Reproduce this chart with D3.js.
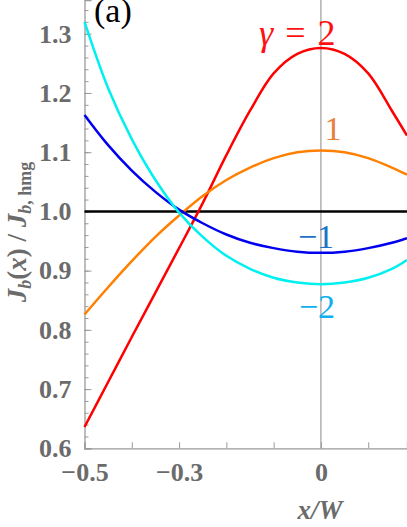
<!DOCTYPE html>
<html>
<head>
<meta charset="utf-8">
<script src="https://cdn.jsdelivr.net/npm/d3@7"></script>
<style>
  body { margin: 0; background: #fff; }
  svg { display: block; }
  text { font-family: "Liberation Serif", "Times New Roman", "DejaVu Serif", serif; }
</style>
</head>
<body>
<div id="chart"></div>
<script>
const xValues = [-0.5, -0.45, -0.4, -0.35, -0.3, -0.25, -0.2, -0.15, -0.1, -0.05, 0, 0.05, 0.1, 0.15, 0.182];

// J_b(x) / J_b,hmg for each gamma
const gamma2 = [0.636, 0.712, 0.788, 0.863, 0.938, 1.014, 1.095, 1.170, 1.233, 1.266, 1.276, 1.266, 1.233, 1.170, 1.128];
const gamma1 = [0.826, 0.872, 0.916, 0.957, 0.993, 1.026, 1.053, 1.074, 1.090, 1.100, 1.103, 1.100, 1.090, 1.074, 1.062];
const gammaM1 = [1.163, 1.112, 1.069, 1.033, 1.003, 0.980, 0.961, 0.947, 0.938, 0.932, 0.930, 0.932, 0.938, 0.947, 0.955];
const gammaM2 = [1.320, 1.208, 1.122, 1.053, 0.998, 0.957, 0.925, 0.903, 0.888, 0.880, 0.877, 0.880, 0.888, 0.903, 0.918];

const yMajorTicks = [0.6, 0.7, 0.8, 0.9, 1.0, 1.1, 1.2, 1.3];
const xTicks = [-0.5, -0.4, -0.3, -0.2, -0.1, 0, 0.1];
const xTickLabels = { "-0.5": "\u22120.5", "-0.3": "\u22120.3", "0": "0" };

const series = [
    { name: "2", values: gamma2, color: "#ff0000" },
    { name: "1", values: gamma1, color: "#ff8000" },
    { name: "-1", values: gammaM1, color: "#0000ee" },
    { name: "-2", values: gammaM2, color: "#00f0f0" }
];

var width = 407, height = 527;
var plotLeft = 84.5, plotBottom = 448.3;

var x = d3.scaleLinear().domain([-0.5, 0.182]).range([plotLeft, 407]);
var y = d3.scaleLinear().domain([0.6, 1.357]).range([plotBottom, 0]);

var svg = d3.select("#chart").append("svg")
    .attr("width", width)
    .attr("height", height);

var axisGray = "#9a9a9a", textGray = "#6b6b6b";

// vertical reference line at x = 0
svg.append("line")
    .attr("x1", x(0)).attr("x2", x(0))
    .attr("y1", 0).attr("y2", plotBottom)
    .attr("stroke", "#8a8a8a")
    .attr("stroke-width", 1);

// y axis: minor ticks every 0.02
var yMinor = d3.range(0.6, 1.36, 0.02).map(d => +d.toFixed(2));
svg.append("g")
    .attr("class", "y axis minor")
    .attr("transform", "translate(" + plotLeft + ",0)")
    .call(d3.axisLeft(y).tickValues(yMinor).tickSize(-4).tickFormat(""))
    .call(g => g.select(".domain").remove())
    .selectAll("line").attr("stroke", axisGray);

var yAxis = svg.append("g")
    .attr("class", "y axis")
    .attr("transform", "translate(" + plotLeft + ",0)")
    .call(d3.axisLeft(y).tickValues(yMajorTicks).tickSize(-7).tickPadding(13).tickFormat(d3.format(".1f")));
yAxis.select(".domain").attr("stroke", axisGray).attr("stroke-width", 1.3);
yAxis.selectAll("line").attr("stroke", axisGray);
yAxis.selectAll("text")
    .attr("fill", textGray)
    .style("font-weight", "bold")
    .style("font-size", "26px");

var xAxis = svg.append("g")
    .attr("class", "x axis")
    .attr("transform", "translate(0," + plotBottom + ")")
    .call(d3.axisBottom(x).tickValues(xTicks).tickSize(-6).tickPadding(14)
        .tickFormat(d => xTickLabels[String(+d.toFixed(1))] || ""));
xAxis.select(".domain").attr("stroke", axisGray).attr("stroke-width", 1.3);
xAxis.selectAll("line").attr("stroke", axisGray);
xAxis.selectAll("text")
    .attr("fill", textGray)
    .style("font-weight", "bold")
    .style("font-size", "26px");
// d3 axes set font-family on the group; drop it so the css serif applies
svg.selectAll(".axis").attr("font-family", null).attr("font-size", null);

// homogeneous reference level
svg.append("line")
    .attr("x1", plotLeft).attr("x2", width)
    .attr("y1", y(1)).attr("y2", y(1))
    .attr("stroke", "#000")
    .attr("stroke-width", 2.5);

var plotLine = d3.line()
    .x((d, i) => x(xValues[i]))
    .y(d => y(d))
    .curve(d3.curveCatmullRom);

svg.append("g").selectAll("path")
    .data(series)
    .enter().append("path")
    .attr("d", d => plotLine(d.values))
    .style("fill", "none")
    .style("stroke-width", "2.5px")
    .style("stroke", d => d.color);

// curve labels
var g2 = svg.append("text")
    .attr("x", 259).attr("y", 45)
    .attr("fill", "#ff1010")
    .style("font-size", "36px");
g2.append("tspan").style("font-style", "italic").text("\u03b3");
g2.append("tspan").attr("dx", 12).text("=");
g2.append("tspan").attr("dx", 12).text("2");

svg.append("text")
    .attr("x", 333).attr("y", 140)
    .attr("text-anchor", "middle")
    .attr("fill", "#e8803a")
    .style("font-size", "34px")
    .text("1");

svg.append("text")
    .attr("x", 316).attr("y", 248)
    .attr("text-anchor", "middle")
    .attr("fill", "#1a73c4")
    .style("font-size", "34px")
    .text("\u22121");

svg.append("text")
    .attr("x", 317).attr("y", 318)
    .attr("text-anchor", "middle")
    .attr("fill", "#10b0ee")
    .style("font-size", "34px")
    .text("\u22122");

// panel tag, cut by the top edge as in the figure
svg.append("text")
    .attr("x", 94).attr("y", 22)
    .attr("fill", "#000")
    .style("font-size", "34px")
    .text("(a)");

// axis titles
svg.append("text")
    .attr("x", 320).attr("y", 519)
    .attr("text-anchor", "middle")
    .attr("fill", textGray)
    .style("font-weight", "bold")
    .style("font-style", "italic")
    .style("font-size", "27px")
    .text("x/W");

var yl = svg.append("text")
    .attr("transform", "translate(26,232) rotate(-90)")
    .attr("text-anchor", "middle")
    .attr("fill", textGray)
    .style("font-weight", "bold")
    .style("font-size", "27px");
yl.append("tspan").style("font-style", "italic").text("J");
yl.append("tspan").style("font-style", "italic").style("font-size", "18px").attr("dy", 5).text("b");
yl.append("tspan").attr("dy", -5).text("(");
yl.append("tspan").style("font-style", "italic").text("x");
yl.append("tspan").text(") / ");
yl.append("tspan").style("font-style", "italic").text("J");
yl.append("tspan").style("font-style", "italic").style("font-size", "18px").attr("dy", 5).text("b");
yl.append("tspan").style("font-size", "18px").text(", hmg");
</script>
</body>
</html>
